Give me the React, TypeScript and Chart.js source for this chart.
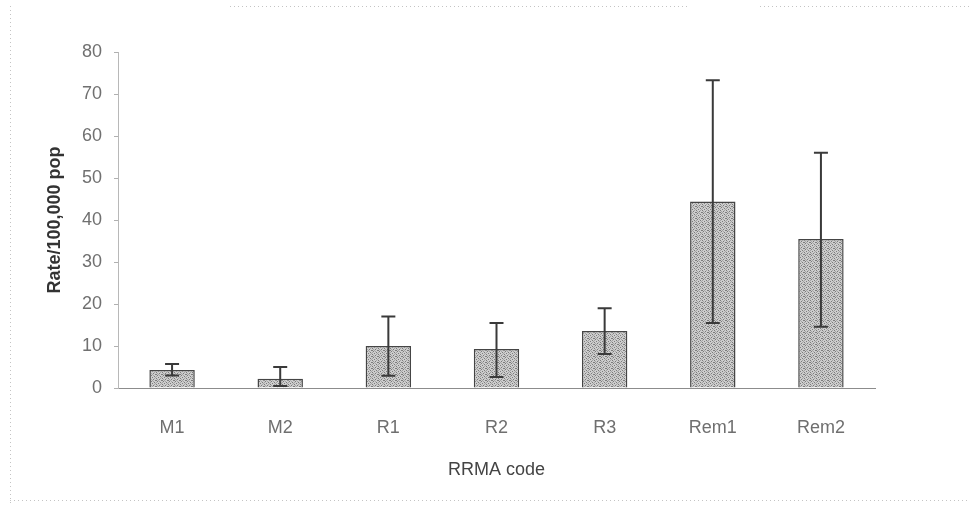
import React, { useEffect, useRef } from "react";
import { Chart, registerables } from "chart.js";

Chart.register(...registerables);

const categories = ["M1", "M2", "R1", "R2", "R3", "Rem1", "Rem2"];
const rates = [4.3, 2.2, 10.0, 9.3, 13.6, 44.4, 35.5];
const lowerCI = [3.0, 0.5, 2.9, 2.6, 8.1, 15.5, 14.6];
const upperCI = [5.7, 5.0, 17.0, 15.5, 19.0, 73.3, 56.0];
const yTitle = "Rate/100,000 pop";
const xTitle = "RRMA code";

function makePattern(): CanvasPattern | string {
  const c = document.createElement("canvas");
  c.width = 6;
  c.height = 6;
  const g = c.getContext("2d");
  if (!g) return "#bcbcbc";
  g.fillStyle = "#cdcdcd";
  g.fillRect(0, 0, 6, 6);
  g.fillStyle = "#7c7c7c";
  const dots = [[0, 0], [3, 1], [1, 3], [4, 4], [5, 2], [2, 5], [0, 2]];
  dots.forEach(([x, y]) => g.fillRect(x, y, 1, 1));
  g.fillStyle = "#a4a4a4";
  [[2, 2], [5, 5], [0, 4], [4, 0], [3, 3], [1, 1]].forEach(([x, y]) => g.fillRect(x, y, 1, 1));
  return g.createPattern(c, "repeat") || "#bcbcbc";
}

const errorBarPlugin = {
  id: "errorBars",
  afterDatasetsDraw(chart: any) {
    const ctx = chart.ctx;
    const meta = chart.getDatasetMeta(0);
    const y = chart.scales.y;
    ctx.save();
    ctx.strokeStyle = "#3a3a3a";
    ctx.lineWidth = 2;
    meta.data.forEach((bar: any, i: number) => {
      const x = bar.x;
      const yl = y.getPixelForValue(lowerCI[i]);
      const yh = y.getPixelForValue(upperCI[i]);
      ctx.beginPath();
      ctx.moveTo(x, yl);
      ctx.lineTo(x, yh);
      ctx.moveTo(x - 7, yh);
      ctx.lineTo(x + 7, yh);
      ctx.moveTo(x - 7, yl);
      ctx.lineTo(x + 7, yl);
      ctx.stroke();
    });
    ctx.restore();
  },
};

const framePlugin = {
  id: "frame",
  beforeDraw(chart: any) {
    const ctx = chart.ctx;
    ctx.save();
    ctx.fillStyle = "#ffffff";
    ctx.fillRect(0, 0, chart.width, chart.height);
    ctx.strokeStyle = "#c4c4c4";
    ctx.lineWidth = 1;
    ctx.setLineDash([1, 3]);
    ctx.beginPath();
    ctx.moveTo(10.5, 6);
    ctx.lineTo(10.5, 504);
    ctx.moveTo(10, 500.5);
    ctx.lineTo(970, 500.5);
    ctx.moveTo(230, 6.5);
    ctx.lineTo(690, 6.5);
    ctx.moveTo(760, 6.5);
    ctx.lineTo(970, 6.5);
    ctx.stroke();
    ctx.restore();
  },
};

export default function App() {
  const ref = useRef<HTMLCanvasElement | null>(null);

  useEffect(() => {
    document.body.style.margin = "0";
    if (!ref.current) return;
    const chart = new Chart(ref.current, {
      type: "bar",
      data: {
        labels: categories,
        datasets: [
          {
            data: rates,
            backgroundColor: makePattern() as any,
            borderColor: "#454545",
            borderWidth: 1.5,
            barPercentage: 0.42,
            categoryPercentage: 1,
          },
        ],
      },
      options: {
        animation: false,
        responsive: false,
        maintainAspectRatio: false,
        layout: { padding: { top: 52, right: 97, bottom: 30, left: 0 } },
        plugins: { legend: { display: false }, tooltip: { enabled: false } },
        scales: {
          x: {
            grid: { display: false, drawTicks: false },
            border: { display: true, color: "#8c8c8c", dash: [2, 2], width: 1 },
            ticks: {
              color: "#6f6f6f",
              padding: 29,
              font: { family: "Liberation Sans, Arial", size: 18 },
            },
            title: {
              display: true,
              text: xTitle,
              color: "#444",
              font: { family: "Liberation Sans, Arial", size: 18 },
              padding: { top: 0, bottom: 0 },
            },
            afterFit(scale: any) {
              scale.height = 93;
            },
          },
          y: {
            min: 0,
            max: 80,
            ticks: {
              stepSize: 10,
              color: "#707070",
              padding: 12,
              font: { family: "Liberation Sans, Arial", size: 18 },
            },
            grid: {
              drawOnChartArea: false,
              drawTicks: true,
              tickLength: 4,
              color: "#b0b0b0",
            },
            border: { display: true, color: "#b8b8b8", dash: [1, 2], width: 1 },
            title: {
              display: true,
              text: yTitle,
              color: "#333",
              font: { family: "Liberation Sans, Arial", size: 18, weight: "bold" },
              padding: { top: 44, bottom: 0 },
            },
            afterFit(scale: any) {
              scale.width = 118;
            },
          },
        },
      },
      plugins: [framePlugin, errorBarPlugin],
    });
    return () => chart.destroy();
  }, []);

  return (
    <div style={{ width: 972, height: 511 }}>
      <canvas ref={ref} width={972} height={511} style={{ width: 972, height: 511, display: "block" }} />
    </div>
  );
}
